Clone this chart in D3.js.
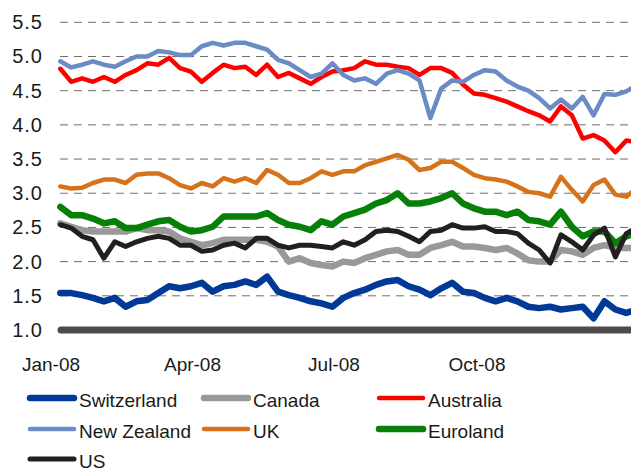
<!DOCTYPE html>
<html>
<head>
<meta charset="utf-8">
<script src="https://cdn.jsdelivr.net/npm/d3@7"></script>
<style>
  body { margin: 0; background: #fff; }
  text { font-family: "Liberation Sans", Arial, sans-serif; fill: #1a1a1a; }
</style>
</head>
<body>
<div id="chart"></div>
<script>
// weekly observations starting on the first Monday of 2008
const startDate = '2008-01-07';
const weeks = 54;

const seriesNames = ['Switzerland', 'Canada', 'Australia', 'New Zealand', 'UK', 'Euroland', 'US'];

const switzerland = [1.54, 1.54, 1.51, 1.47, 1.42, 1.47, 1.34, 1.42, 1.44, 1.54, 1.64, 1.61, 1.64, 1.69, 1.56, 1.64, 1.66, 1.71,
  1.66, 1.78, 1.56, 1.51, 1.47, 1.42, 1.39, 1.34, 1.47, 1.54, 1.59, 1.66, 1.71, 1.73, 1.64, 1.59, 1.51,
  1.61, 1.69, 1.56, 1.54, 1.47, 1.42, 1.47, 1.42, 1.34, 1.32, 1.34, 1.30, 1.32, 1.34, 1.17, 1.42, 1.30, 1.25, 1.30];
const canada = [2.56, 2.51, 2.46, 2.44, 2.44, 2.44, 2.44, 2.49, 2.46, 2.46, 2.44, 2.34, 2.29, 2.24, 2.27, 2.32, 2.32, 2.32,
  2.32, 2.29, 2.22, 2.00, 2.05, 1.98, 1.95, 1.93, 2.00, 1.98, 2.05, 2.10, 2.15, 2.17, 2.10, 2.10, 2.20,
  2.24, 2.29, 2.22, 2.22, 2.20, 2.17, 2.20, 2.12, 2.02, 2.00, 2.00, 2.17, 2.15, 2.10, 2.20, 2.24, 2.20, 2.20, 2.20];
const australia = [4.82, 4.63, 4.68, 4.63, 4.70, 4.63, 4.73, 4.80, 4.90, 4.88, 4.98, 4.83, 4.78, 4.63, 4.76, 4.88, 4.83, 4.85,
  4.73, 4.88, 4.70, 4.76, 4.68, 4.60, 4.70, 4.78, 4.80, 4.83, 4.93, 4.88, 4.88, 4.85, 4.83, 4.73, 4.83,
  4.83, 4.76, 4.59, 4.46, 4.44, 4.39, 4.34, 4.27, 4.20, 4.14, 4.05, 4.27, 4.14, 3.80, 3.85, 3.77, 3.60, 3.77, 3.75];
const newZealand = [4.93, 4.84, 4.88, 4.93, 4.88, 4.85, 4.93, 5.00, 5.00, 5.08, 5.06, 5.02, 5.02, 5.15, 5.20, 5.16, 5.20, 5.20,
  5.15, 5.10, 4.95, 4.90, 4.80, 4.70, 4.75, 4.90, 4.73, 4.65, 4.68, 4.60, 4.75, 4.80, 4.75, 4.65, 4.10,
  4.53, 4.65, 4.63, 4.73, 4.80, 4.78, 4.65, 4.56, 4.50, 4.39, 4.24, 4.37, 4.24, 4.41, 4.14, 4.45, 4.44, 4.49, 4.58];
const uk = [3.10, 3.07, 3.08, 3.15, 3.20, 3.20, 3.15, 3.27, 3.29, 3.29, 3.22, 3.12, 3.07, 3.15, 3.10, 3.22, 3.17, 3.22,
  3.15, 3.34, 3.27, 3.15, 3.15, 3.22, 3.32, 3.27, 3.32, 3.32, 3.41, 3.46, 3.51, 3.56, 3.49, 3.34, 3.37,
  3.46, 3.46, 3.37, 3.27, 3.22, 3.20, 3.17, 3.10, 3.02, 3.00, 2.95, 3.24, 3.05, 2.88, 3.12, 3.20, 2.98, 2.95, 3.08];
const euroland = [2.80, 2.68, 2.68, 2.63, 2.56, 2.59, 2.49, 2.49, 2.54, 2.59, 2.61, 2.51, 2.44, 2.46, 2.51, 2.66, 2.66, 2.66,
  2.66, 2.71, 2.61, 2.54, 2.51, 2.46, 2.59, 2.54, 2.66, 2.71, 2.76, 2.85, 2.90, 3.00, 2.85, 2.85, 2.88,
  2.93, 3.00, 2.85, 2.78, 2.73, 2.73, 2.68, 2.73, 2.61, 2.59, 2.54, 2.73, 2.51, 2.37, 2.44, 2.44, 2.27, 2.37, 2.42];
const us = [2.54, 2.49, 2.37, 2.32, 2.05, 2.29, 2.22, 2.29, 2.34, 2.37, 2.34, 2.24, 2.24, 2.15, 2.17, 2.24, 2.27, 2.20,
  2.34, 2.34, 2.24, 2.20, 2.24, 2.24, 2.22, 2.20, 2.29, 2.24, 2.32, 2.44, 2.46, 2.44, 2.37, 2.29, 2.44,
  2.46, 2.54, 2.49, 2.49, 2.51, 2.44, 2.44, 2.41, 2.27, 2.17, 1.98, 2.39, 2.29, 2.17, 2.39, 2.49, 2.07, 2.41, 2.50];

const yTicks = [1.0, 1.5, 2.0, 2.5, 3.0, 3.5, 4.0, 4.5, 5.0, 5.5];
const xTicks = ['2008-01-01', '2008-04-01', '2008-07-01', '2008-10-01'];

const seriesValues = [switzerland, canada, australia, newZealand, uk, euroland, us];
const colors = ['#003a96', '#999999', '#ff0000', '#6a8bc5', '#d6721a', '#078007', '#231f20'];
const widths = [6.5, 6.5, 4.5, 4.5, 4.5, 6.5, 5];

const width = 631;
const height = 472;
const parse = d3.utcParse('%Y-%m-%d');

const start = parse(startDate);
const dates = d3.range(weeks).map(i => d3.utcDay.offset(start, i * 7));

const x = d3.scaleUtc()
  .domain([parse(xTicks[0]), parse(xTicks[3])])
  .range([51, 477]);

const y = d3.scaleLinear()
  .domain([1, 5.5])
  .range([330, 22.3]);

const svg = d3.select('#chart').append('svg')
  .attr('width', width)
  .attr('height', height);

svg.append('rect').attr('width', width).attr('height', height).attr('fill', '#fff');

// dashed gridlines (the 1.0 line is drawn as a solid base below)
svg.append('g')
  .selectAll('line')
  .data(yTicks.slice(1))
  .enter()
  .append('line')
  .attr('x1', 60)
  .attr('x2', width)
  .attr('y1', d => y(d))
  .attr('y2', d => y(d))
  .attr('stroke', '#6e6e6e')
  .attr('stroke-width', 1)
  .attr('stroke-dasharray', '8,6');

// y labels
svg.append('g')
  .selectAll('text')
  .data(yTicks)
  .enter()
  .append('text')
  .attr('x', 43)
  .attr('y', d => y(d) + 7)
  .attr('text-anchor', 'end')
  .attr('font-size', 20)
  .attr('letter-spacing', 1)
  .text(d => d.toFixed(1));

// x labels
const fmt = d3.utcFormat('%b-%y');
svg.append('g')
  .selectAll('text')
  .data(xTicks.map(parse))
  .enter()
  .append('text')
  .attr('x', d => x(d))
  .attr('y', 371)
  .attr('text-anchor', 'middle')
  .attr('font-size', 19)
  .text(d => fmt(d));

// series lines
const line = d3.line()
  .x((d, i) => x(dates[i]))
  .y(d => y(d));

svg.append('g')
  .selectAll('path')
  .data(seriesValues)
  .enter()
  .append('path')
  .attr('d', d => line(d))
  .attr('fill', 'none')
  .attr('stroke', (d, i) => colors[i])
  .attr('stroke-width', (d, i) => widths[i])
  .attr('stroke-linejoin', 'round')
  .attr('stroke-linecap', 'round');

// thick base line at 1.0
svg.append('line')
  .attr('x1', 61)
  .attr('x2', width + 10)
  .attr('y1', y(1))
  .attr('y2', y(1))
  .attr('stroke', '#4f4b4a')
  .attr('stroke-width', 7)
  .attr('stroke-linecap', 'round');

// legend, three columns
const legendCols = [28, 202, 377];
const legendRows = [398, 429, 459];
const legend = svg.append('g')
  .selectAll('g')
  .data(seriesNames)
  .enter()
  .append('g')
  .attr('transform', (d, i) => `translate(${legendCols[i % 3]},${legendRows[Math.floor(i / 3)]})`);

legend.append('line')
  .attr('x1', 2)
  .attr('x2', 46)
  .attr('stroke', (d, i) => colors[i])
  .attr('stroke-width', (d, i) => widths[i])
  .attr('stroke-linecap', 'round');

legend.append('text')
  .attr('x', 51)
  .attr('y', 9)
  .attr('font-size', 19)
  .text(d => d);
</script>
</body>
</html>
